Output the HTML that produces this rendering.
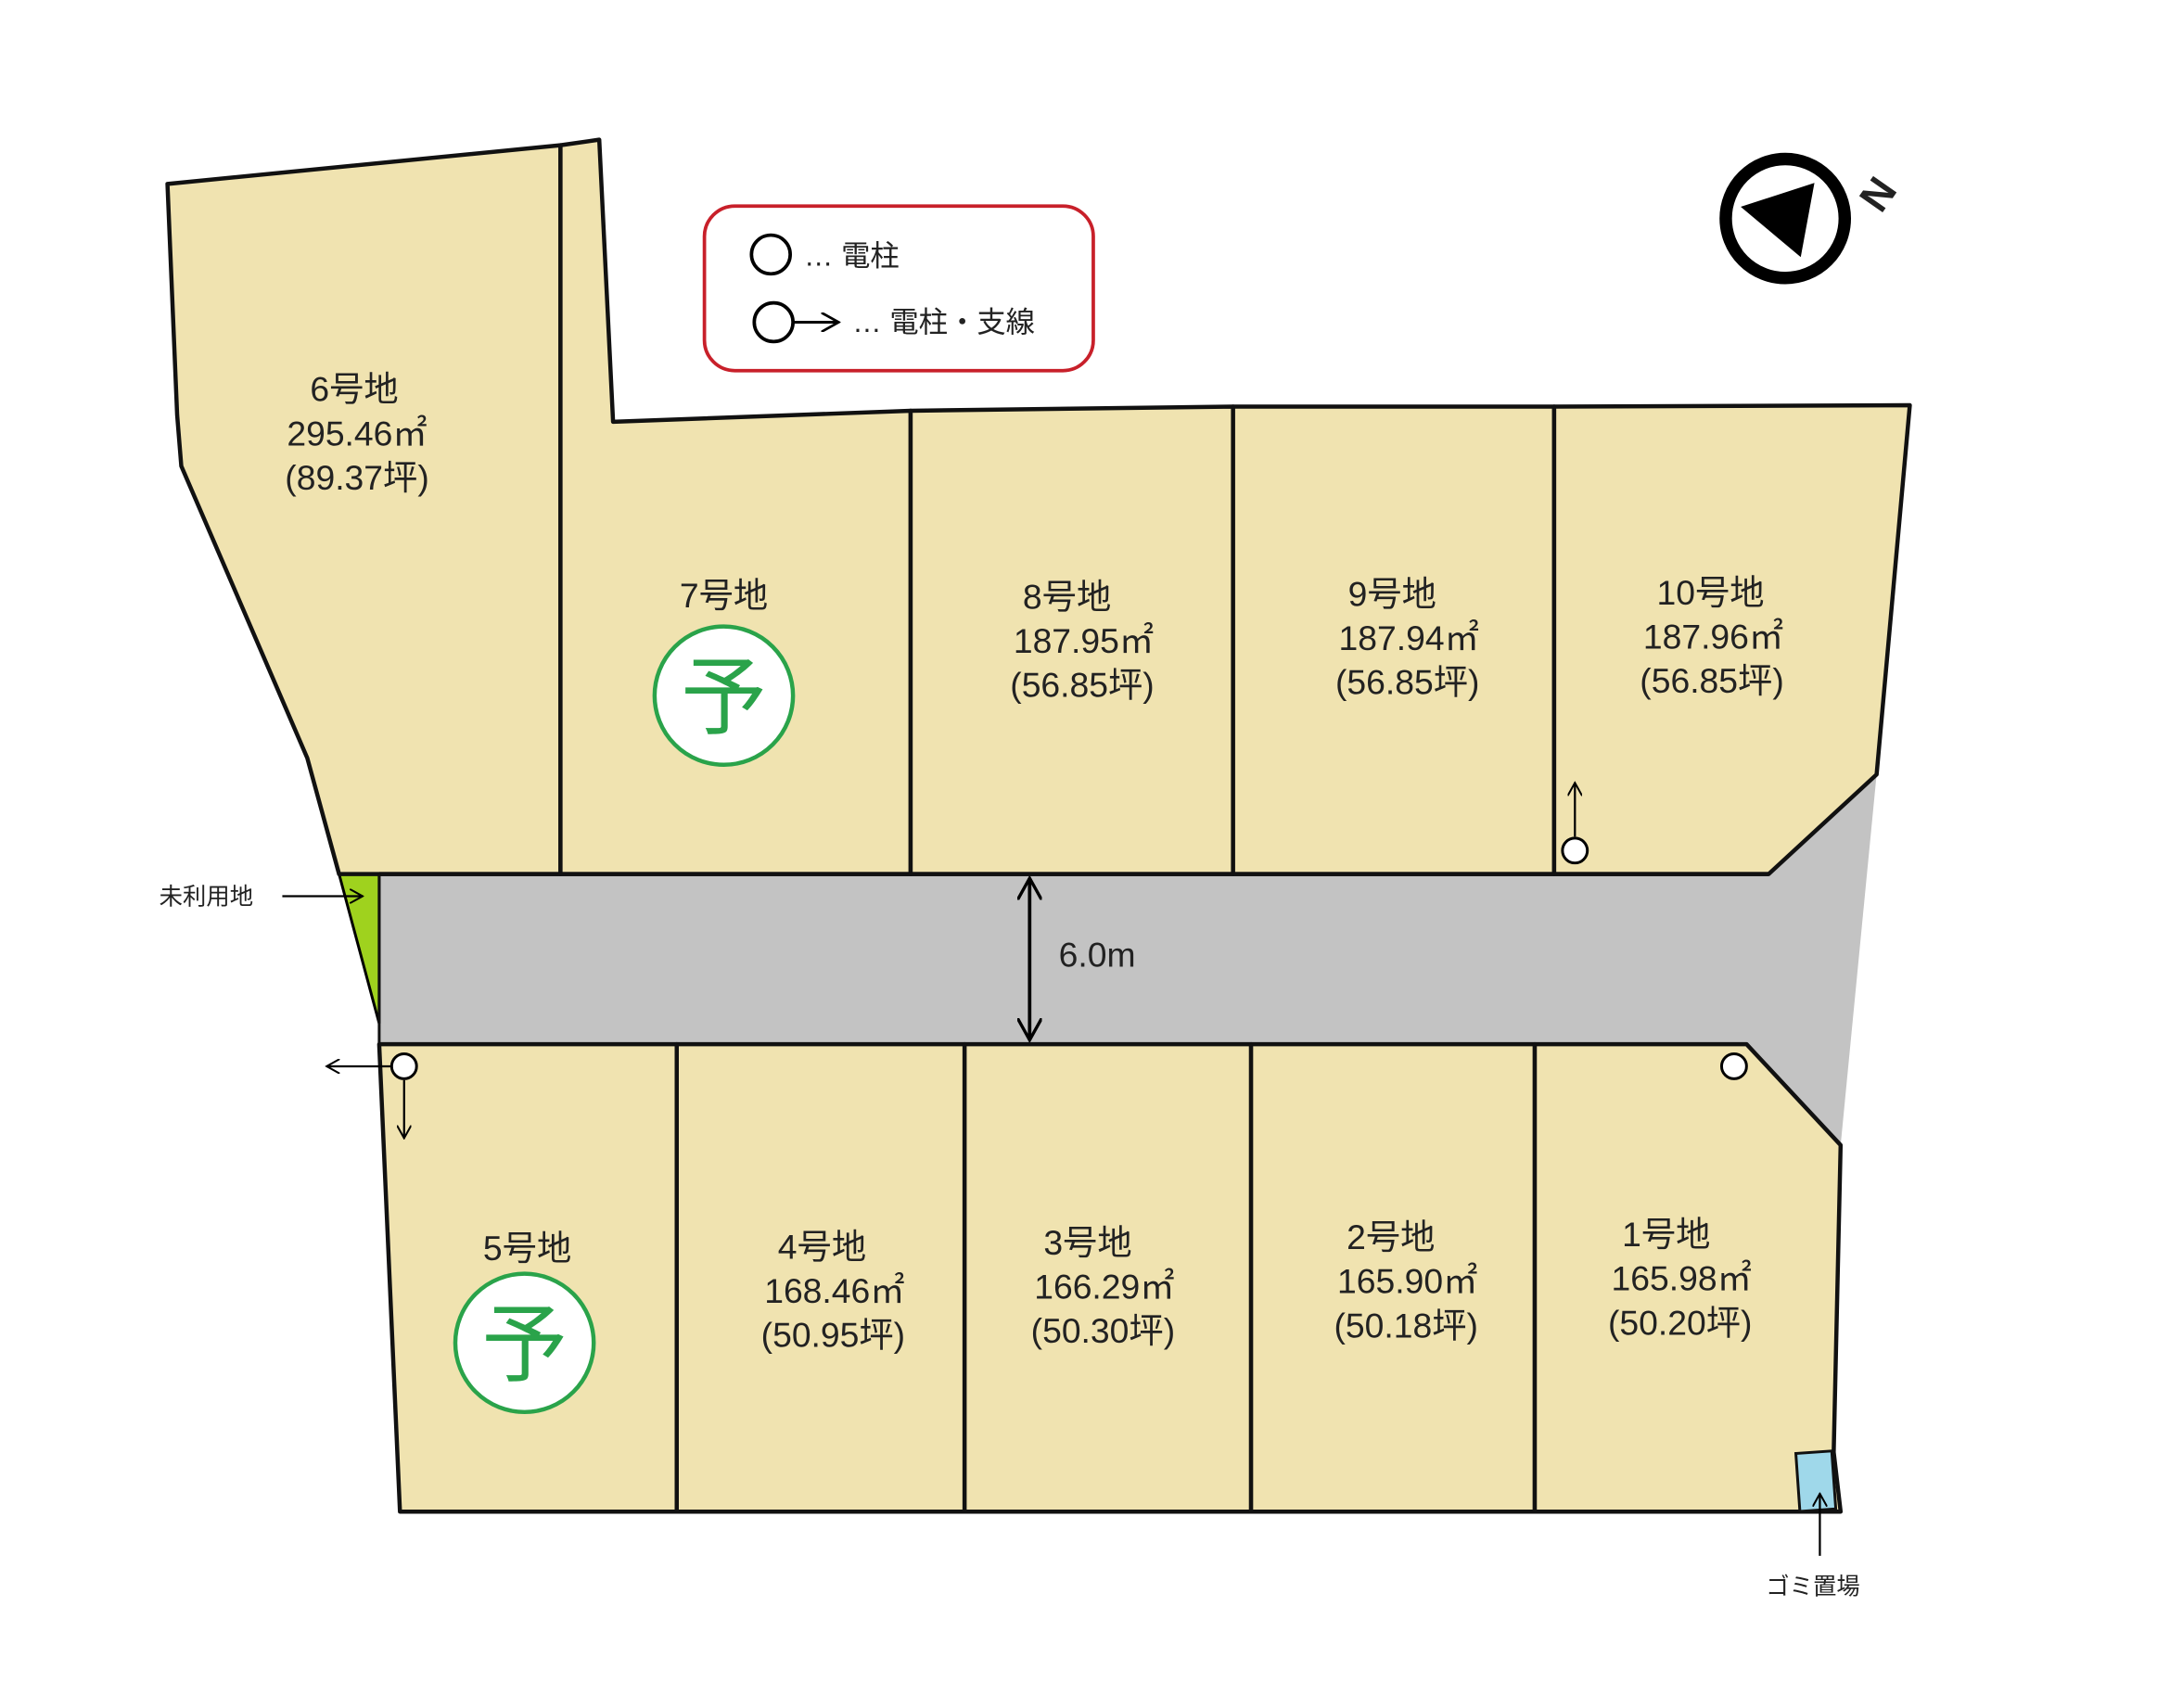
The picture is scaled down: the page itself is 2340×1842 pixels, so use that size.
<!DOCTYPE html>
<html><head><meta charset="utf-8"><style>
html,body{margin:0;padding:0;background:#fff;}
svg{display:block;}
text{font-family:"Liberation Sans","Noto Sans CJK JP",sans-serif;fill:#222;}
</style></head><body>
<svg width="2340" height="1842" viewBox="0 0 1568 1235" preserveAspectRatio="none" xmlns="http://www.w3.org/2000/svg">
<defs><marker id="ar" viewBox="0 0 10 10" refX="9" refY="5" markerWidth="7" markerHeight="7" orient="auto-start-reverse"><path d="M0,0 L9,5 L0,10" fill="none" stroke="#000" stroke-width="1.3"/></marker></defs>
<polygon points="274,632 1278,632 1356,560 1330,828 1262,755 274,755" fill="#c3c3c3"/>
<polygon points="245,632 274,632 274,740" fill="#9fd21e" stroke="#000" stroke-width="2"/>
<g fill="#f0e3b0" stroke="#111" stroke-width="3" stroke-linejoin="round">
<polygon points="121,133 405,105 405,632 245,632 222,548 131,337 128,300"/>
<polygon points="405,105 433,101 443,305 658,297 658,632 405,632"/>
<polygon points="658,297 891,294 891,632 658,632"/>
<polygon points="891,294 1123,294 1123,632 891,632"/>
<polygon points="1123,294 1380,293 1356,560 1278,632 1123,632"/>
<polygon points="274,755 489,755 489,1093 289,1093"/>
<polygon points="489,755 697,755 697,1093 489,1093"/>
<polygon points="697,755 904,755 904,1093 697,1093"/>
<polygon points="904,755 1109,755 1109,1093 904,1093"/>
<polygon points="1109,755 1262,755 1330,828 1325,1050 1330,1093 1109,1093"/>
</g>
<polyline points="274,632 1278,632" stroke="#111" stroke-width="3"/>
<line x1="274" y1="632" x2="274" y2="755" stroke="#111" stroke-width="2"/>
<rect x="1299" y="1050" width="26" height="42" fill="#9fd8ea" stroke="#111" stroke-width="2" transform="rotate(-4 1312 1070)"/>
<line x1="744" y1="635" x2="744" y2="752" stroke="#000" stroke-width="2.5" marker-start="url(#ar)" marker-end="url(#ar)"/>
<text x="765" y="699" font-size="25">6.0m</text>
<g fill="#fff" stroke="#000" stroke-width="2">
<circle cx="1138" cy="615" r="9"/><circle cx="292" cy="771" r="9"/><circle cx="1253" cy="771" r="9"/>
</g>
<g stroke="#000" stroke-width="1.5" fill="none">
<line x1="1138" y1="605" x2="1138" y2="566" marker-end="url(#ar)"/>
<line x1="283" y1="771" x2="236" y2="771" marker-end="url(#ar)"/>
<line x1="292" y1="781" x2="292" y2="823" marker-end="url(#ar)"/>
<line x1="204" y1="648" x2="262" y2="648" marker-end="url(#ar)"/>
<line x1="1315" y1="1125" x2="1315" y2="1080" marker-end="url(#ar)"/>
</g>
<text x="115" y="654" font-size="17">未利用地</text>
<text x="1276" y="1153" font-size="17">ゴミ置場</text>
<rect x="509" y="149" width="281" height="119" rx="22" fill="#fff" stroke="#c8202a" stroke-width="2.5"/>
<circle cx="557" cy="184" r="14" fill="#fff" stroke="#000" stroke-width="2.5"/>
<text x="581" y="192" font-size="21">… 電柱</text>
<circle cx="559" cy="233" r="14" fill="#fff" stroke="#000" stroke-width="2.5"/>
<line x1="573" y1="233" x2="606" y2="233" stroke="#000" stroke-width="2" marker-end="url(#ar)"/>
<text x="616" y="240" font-size="21">… 電柱・支線</text>
<circle cx="1290" cy="158" r="43" fill="#fff" stroke="#000" stroke-width="9"/>
<polygon points="1262,140 1318,140 1292,188" fill="#000" transform="rotate(-18 1290 158)"/>
<text x="1343" y="148" font-size="30" font-weight="bold" transform="rotate(-55 1358 136)">N</text>
<g font-size="25" text-anchor="middle">
<text x="256" y="290">6号地</text><text x="258" y="322">295.46㎡</text><text x="258" y="354">(89.37坪)</text>
<text x="523" y="439">7号地</text>
<text x="771" y="440">8号地</text><text x="783" y="472">187.95㎡</text><text x="782" y="504">(56.85坪)</text>
<text x="1006" y="438">9号地</text><text x="1018" y="470">187.94㎡</text><text x="1017" y="502">(56.85坪)</text>
<text x="1236" y="437">10号地</text><text x="1238" y="469">187.96㎡</text><text x="1237" y="501">(56.85坪)</text>
<text x="381" y="911">5号地</text>
<text x="594" y="910">4号地</text><text x="603" y="942">168.46㎡</text><text x="602" y="974">(50.95坪)</text>
<text x="786" y="907">3号地</text><text x="798" y="939">166.29㎡</text><text x="797" y="971">(50.30坪)</text>
<text x="1005" y="903">2号地</text><text x="1017" y="935">165.90㎡</text><text x="1016" y="967">(50.18坪)</text>
<text x="1204" y="901">1号地</text><text x="1215" y="933">165.98㎡</text><text x="1214" y="965">(50.20坪)</text>
</g>
<g fill="#fff" stroke="#2aa34a" stroke-width="3">
<circle cx="523" cy="503" r="50"/><circle cx="379" cy="971" r="50"/>
</g>
<g font-size="62" text-anchor="middle">
<text x="523" y="526" style="fill:#2aa34a">予</text>
<text x="379" y="994" style="fill:#2aa34a">予</text>
</g>
</svg>
</body></html>
